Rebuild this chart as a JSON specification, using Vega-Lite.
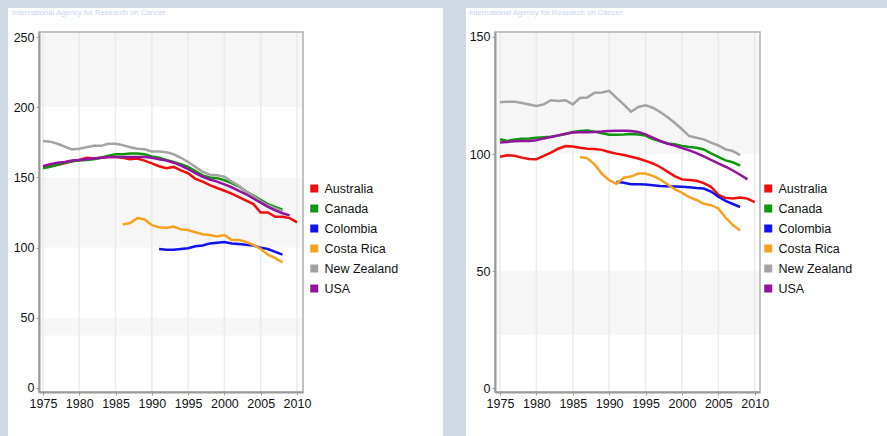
{
  "$schema": "https://vega.github.io/schema/vega-lite/v6.json",
  "background": "#cfdae5",
  "padding": {"left": 8, "top": 7, "right": 0, "bottom": 0},
  "spacing": 22,
  "config": {
    "view": {"stroke": null},
    "axis": {"domainColor": "#9a9a9a", "domainWidth": 2, "tickColor": "#9a9a9a", "tickSize": 3, "labelFont": "Liberation Sans", "labelFontSize": 12.5, "labelColor": "#111111", "grid": false, "labelPadding": 2, "labelOverlap": false, "labelFlush": false, "zindex": 1},
    "legend": {"labelFont": "Liberation Sans", "labelFontSize": 12.5, "labelColor": "#111111", "symbolType": "square", "orient": "none", "rowPadding": 7, "labelOffset": 4}
  },
  "resolve": {"scale": {"color": "independent"}, "legend": {"color": "independent"}},
  "datasets": {
    "grid": [{"year": 1975}, {"year": 1980}, {"year": 1985}, {"year": 1990}, {"year": 1995}, {"year": 2000}, {"year": 2005}, {"year": 2010}],
    "bands1": [{"lo": 200, "hi": 253.6}, {"lo": 100, "hi": 150}, {"lo": 37.4, "hi": 50}],
    "bands2": [{"lo": 100, "hi": 152.13}, {"lo": 22.6, "hi": 50}],
    "p1": [
      {"country": "Australia", "year": 1975, "v": 158}, {"country": "Australia", "year": 1976, "v": 158}, {"country": "Australia", "year": 1977, "v": 159}, {"country": "Australia", "year": 1978, "v": 160}, {"country": "Australia", "year": 1979, "v": 161.5}, {"country": "Australia", "year": 1980, "v": 162.5}, {"country": "Australia", "year": 1981, "v": 164}, {"country": "Australia", "year": 1982, "v": 163.5}, {"country": "Australia", "year": 1983, "v": 164}, {"country": "Australia", "year": 1984, "v": 164.5}, {"country": "Australia", "year": 1985, "v": 164.5}, {"country": "Australia", "year": 1986, "v": 164}, {"country": "Australia", "year": 1987, "v": 163}, {"country": "Australia", "year": 1988, "v": 163.5}, {"country": "Australia", "year": 1989, "v": 162}, {"country": "Australia", "year": 1990, "v": 160}, {"country": "Australia", "year": 1991, "v": 158}, {"country": "Australia", "year": 1992, "v": 156.5}, {"country": "Australia", "year": 1993, "v": 157.5}, {"country": "Australia", "year": 1994, "v": 155}, {"country": "Australia", "year": 1995, "v": 153}, {"country": "Australia", "year": 1996, "v": 149}, {"country": "Australia", "year": 1997, "v": 147}, {"country": "Australia", "year": 1998, "v": 144.5}, {"country": "Australia", "year": 1999, "v": 142.5}, {"country": "Australia", "year": 2000, "v": 140.5}, {"country": "Australia", "year": 2001, "v": 138.5}, {"country": "Australia", "year": 2002, "v": 136}, {"country": "Australia", "year": 2003, "v": 133.5}, {"country": "Australia", "year": 2004, "v": 131}, {"country": "Australia", "year": 2005, "v": 125}, {"country": "Australia", "year": 2006, "v": 125}, {"country": "Australia", "year": 2007, "v": 122}, {"country": "Australia", "year": 2008, "v": 122}, {"country": "Australia", "year": 2009, "v": 121}, {"country": "Australia", "year": 2010, "v": 118},
      {"country": "Canada", "year": 1975, "v": 156.5}, {"country": "Canada", "year": 1976, "v": 157.5}, {"country": "Canada", "year": 1977, "v": 159}, {"country": "Canada", "year": 1978, "v": 160.5}, {"country": "Canada", "year": 1979, "v": 161.5}, {"country": "Canada", "year": 1980, "v": 162}, {"country": "Canada", "year": 1981, "v": 162.5}, {"country": "Canada", "year": 1982, "v": 163}, {"country": "Canada", "year": 1983, "v": 164}, {"country": "Canada", "year": 1984, "v": 165.5}, {"country": "Canada", "year": 1985, "v": 166.5}, {"country": "Canada", "year": 1986, "v": 166.5}, {"country": "Canada", "year": 1987, "v": 167}, {"country": "Canada", "year": 1988, "v": 167}, {"country": "Canada", "year": 1989, "v": 166.5}, {"country": "Canada", "year": 1990, "v": 165}, {"country": "Canada", "year": 1991, "v": 164}, {"country": "Canada", "year": 1992, "v": 162.5}, {"country": "Canada", "year": 1993, "v": 161}, {"country": "Canada", "year": 1994, "v": 159.5}, {"country": "Canada", "year": 1995, "v": 157.5}, {"country": "Canada", "year": 1996, "v": 154.5}, {"country": "Canada", "year": 1997, "v": 151.5}, {"country": "Canada", "year": 1998, "v": 150}, {"country": "Canada", "year": 1999, "v": 149.5}, {"country": "Canada", "year": 2000, "v": 148}, {"country": "Canada", "year": 2001, "v": 146}, {"country": "Canada", "year": 2002, "v": 143.5}, {"country": "Canada", "year": 2003, "v": 140}, {"country": "Canada", "year": 2004, "v": 137}, {"country": "Canada", "year": 2005, "v": 134}, {"country": "Canada", "year": 2006, "v": 131}, {"country": "Canada", "year": 2007, "v": 129}, {"country": "Canada", "year": 2008, "v": 127},
      {"country": "Colombia", "year": 1991, "v": 99}, {"country": "Colombia", "year": 1992, "v": 98.5}, {"country": "Colombia", "year": 1993, "v": 98.5}, {"country": "Colombia", "year": 1994, "v": 99}, {"country": "Colombia", "year": 1995, "v": 99.5}, {"country": "Colombia", "year": 1996, "v": 101}, {"country": "Colombia", "year": 1997, "v": 101.5}, {"country": "Colombia", "year": 1998, "v": 103}, {"country": "Colombia", "year": 1999, "v": 103.5}, {"country": "Colombia", "year": 2000, "v": 104}, {"country": "Colombia", "year": 2001, "v": 103}, {"country": "Colombia", "year": 2002, "v": 102.5}, {"country": "Colombia", "year": 2003, "v": 102}, {"country": "Colombia", "year": 2004, "v": 101.5}, {"country": "Colombia", "year": 2005, "v": 100}, {"country": "Colombia", "year": 2006, "v": 99}, {"country": "Colombia", "year": 2007, "v": 97}, {"country": "Colombia", "year": 2008, "v": 95},
      {"country": "Costa Rica", "year": 1986, "v": 116.5}, {"country": "Costa Rica", "year": 1987, "v": 117.5}, {"country": "Costa Rica", "year": 1988, "v": 121}, {"country": "Costa Rica", "year": 1989, "v": 120}, {"country": "Costa Rica", "year": 1990, "v": 116}, {"country": "Costa Rica", "year": 1991, "v": 114.5}, {"country": "Costa Rica", "year": 1992, "v": 114}, {"country": "Costa Rica", "year": 1993, "v": 115}, {"country": "Costa Rica", "year": 1994, "v": 113}, {"country": "Costa Rica", "year": 1995, "v": 112.5}, {"country": "Costa Rica", "year": 1996, "v": 111}, {"country": "Costa Rica", "year": 1997, "v": 109.5}, {"country": "Costa Rica", "year": 1998, "v": 109}, {"country": "Costa Rica", "year": 1999, "v": 108}, {"country": "Costa Rica", "year": 2000, "v": 109}, {"country": "Costa Rica", "year": 2001, "v": 105.5}, {"country": "Costa Rica", "year": 2002, "v": 105.5}, {"country": "Costa Rica", "year": 2003, "v": 104}, {"country": "Costa Rica", "year": 2004, "v": 102}, {"country": "Costa Rica", "year": 2005, "v": 99}, {"country": "Costa Rica", "year": 2006, "v": 95}, {"country": "Costa Rica", "year": 2007, "v": 92.5}, {"country": "Costa Rica", "year": 2008, "v": 89.5},
      {"country": "New Zealand", "year": 1975, "v": 176}, {"country": "New Zealand", "year": 1976, "v": 175.5}, {"country": "New Zealand", "year": 1977, "v": 174}, {"country": "New Zealand", "year": 1978, "v": 172}, {"country": "New Zealand", "year": 1979, "v": 170}, {"country": "New Zealand", "year": 1980, "v": 170.5}, {"country": "New Zealand", "year": 1981, "v": 171.5}, {"country": "New Zealand", "year": 1982, "v": 172.5}, {"country": "New Zealand", "year": 1983, "v": 172.5}, {"country": "New Zealand", "year": 1984, "v": 174}, {"country": "New Zealand", "year": 1985, "v": 174}, {"country": "New Zealand", "year": 1986, "v": 173}, {"country": "New Zealand", "year": 1987, "v": 171.5}, {"country": "New Zealand", "year": 1988, "v": 170.5}, {"country": "New Zealand", "year": 1989, "v": 170}, {"country": "New Zealand", "year": 1990, "v": 168.5}, {"country": "New Zealand", "year": 1991, "v": 168.5}, {"country": "New Zealand", "year": 1992, "v": 168}, {"country": "New Zealand", "year": 1993, "v": 166.5}, {"country": "New Zealand", "year": 1994, "v": 164}, {"country": "New Zealand", "year": 1995, "v": 161}, {"country": "New Zealand", "year": 1996, "v": 157.5}, {"country": "New Zealand", "year": 1997, "v": 154}, {"country": "New Zealand", "year": 1998, "v": 152}, {"country": "New Zealand", "year": 1999, "v": 151.5}, {"country": "New Zealand", "year": 2000, "v": 150.5}, {"country": "New Zealand", "year": 2001, "v": 147}, {"country": "New Zealand", "year": 2002, "v": 144}, {"country": "New Zealand", "year": 2003, "v": 140}, {"country": "New Zealand", "year": 2004, "v": 136.5}, {"country": "New Zealand", "year": 2005, "v": 133}, {"country": "New Zealand", "year": 2006, "v": 130}, {"country": "New Zealand", "year": 2007, "v": 128}, {"country": "New Zealand", "year": 2008, "v": 126},
      {"country": "USA", "year": 1975, "v": 158}, {"country": "USA", "year": 1976, "v": 159.5}, {"country": "USA", "year": 1977, "v": 160.5}, {"country": "USA", "year": 1978, "v": 161}, {"country": "USA", "year": 1979, "v": 162}, {"country": "USA", "year": 1980, "v": 162.5}, {"country": "USA", "year": 1981, "v": 163}, {"country": "USA", "year": 1982, "v": 163.5}, {"country": "USA", "year": 1983, "v": 164}, {"country": "USA", "year": 1984, "v": 164.5}, {"country": "USA", "year": 1985, "v": 164.5}, {"country": "USA", "year": 1986, "v": 164.5}, {"country": "USA", "year": 1987, "v": 164.5}, {"country": "USA", "year": 1988, "v": 164.5}, {"country": "USA", "year": 1989, "v": 164.5}, {"country": "USA", "year": 1990, "v": 164}, {"country": "USA", "year": 1991, "v": 163}, {"country": "USA", "year": 1992, "v": 162}, {"country": "USA", "year": 1993, "v": 160.5}, {"country": "USA", "year": 1994, "v": 158.5}, {"country": "USA", "year": 1995, "v": 156}, {"country": "USA", "year": 1996, "v": 153}, {"country": "USA", "year": 1997, "v": 150.5}, {"country": "USA", "year": 1998, "v": 148.5}, {"country": "USA", "year": 1999, "v": 147}, {"country": "USA", "year": 2000, "v": 145}, {"country": "USA", "year": 2001, "v": 143}, {"country": "USA", "year": 2002, "v": 140.5}, {"country": "USA", "year": 2003, "v": 138}, {"country": "USA", "year": 2004, "v": 135}, {"country": "USA", "year": 2005, "v": 132}, {"country": "USA", "year": 2006, "v": 129}, {"country": "USA", "year": 2007, "v": 126.5}, {"country": "USA", "year": 2008, "v": 124.5}, {"country": "USA", "year": 2009, "v": 123}
    ],
    "p2": [
      {"country": "Australia", "year": 1975, "v": 98.9}, {"country": "Australia", "year": 1976, "v": 99.5}, {"country": "Australia", "year": 1977, "v": 99.3}, {"country": "Australia", "year": 1978, "v": 98.5}, {"country": "Australia", "year": 1979, "v": 97.9}, {"country": "Australia", "year": 1980, "v": 97.8}, {"country": "Australia", "year": 1981, "v": 99.2}, {"country": "Australia", "year": 1982, "v": 100.6}, {"country": "Australia", "year": 1983, "v": 102.3}, {"country": "Australia", "year": 1984, "v": 103.4}, {"country": "Australia", "year": 1985, "v": 103.2}, {"country": "Australia", "year": 1986, "v": 102.7}, {"country": "Australia", "year": 1987, "v": 102.3}, {"country": "Australia", "year": 1988, "v": 102.2}, {"country": "Australia", "year": 1989, "v": 101.8}, {"country": "Australia", "year": 1990, "v": 100.9}, {"country": "Australia", "year": 1991, "v": 100.2}, {"country": "Australia", "year": 1992, "v": 99.6}, {"country": "Australia", "year": 1993, "v": 98.9}, {"country": "Australia", "year": 1994, "v": 98.1}, {"country": "Australia", "year": 1995, "v": 97.1}, {"country": "Australia", "year": 1996, "v": 96}, {"country": "Australia", "year": 1997, "v": 94.5}, {"country": "Australia", "year": 1998, "v": 92.5}, {"country": "Australia", "year": 1999, "v": 90.6}, {"country": "Australia", "year": 2000, "v": 89.2}, {"country": "Australia", "year": 2001, "v": 88.9}, {"country": "Australia", "year": 2002, "v": 88.6}, {"country": "Australia", "year": 2003, "v": 87.6}, {"country": "Australia", "year": 2004, "v": 86}, {"country": "Australia", "year": 2005, "v": 82.6}, {"country": "Australia", "year": 2006, "v": 81.3}, {"country": "Australia", "year": 2007, "v": 81}, {"country": "Australia", "year": 2008, "v": 81.5}, {"country": "Australia", "year": 2009, "v": 81}, {"country": "Australia", "year": 2010, "v": 79.5},
      {"country": "Canada", "year": 1975, "v": 106.3}, {"country": "Canada", "year": 1976, "v": 105.6}, {"country": "Canada", "year": 1977, "v": 106.2}, {"country": "Canada", "year": 1978, "v": 106.6}, {"country": "Canada", "year": 1979, "v": 106.7}, {"country": "Canada", "year": 1980, "v": 107}, {"country": "Canada", "year": 1981, "v": 107.2}, {"country": "Canada", "year": 1982, "v": 107.4}, {"country": "Canada", "year": 1983, "v": 107.9}, {"country": "Canada", "year": 1984, "v": 108.6}, {"country": "Canada", "year": 1985, "v": 109.4}, {"country": "Canada", "year": 1986, "v": 109.9}, {"country": "Canada", "year": 1987, "v": 110.1}, {"country": "Canada", "year": 1988, "v": 109.6}, {"country": "Canada", "year": 1989, "v": 108.9}, {"country": "Canada", "year": 1990, "v": 108.3}, {"country": "Canada", "year": 1991, "v": 108.3}, {"country": "Canada", "year": 1992, "v": 108.4}, {"country": "Canada", "year": 1993, "v": 108.6}, {"country": "Canada", "year": 1994, "v": 108.4}, {"country": "Canada", "year": 1995, "v": 107.9}, {"country": "Canada", "year": 1996, "v": 106.4}, {"country": "Canada", "year": 1997, "v": 105.6}, {"country": "Canada", "year": 1998, "v": 104.5}, {"country": "Canada", "year": 1999, "v": 104.2}, {"country": "Canada", "year": 2000, "v": 103.5}, {"country": "Canada", "year": 2001, "v": 103}, {"country": "Canada", "year": 2002, "v": 102.7}, {"country": "Canada", "year": 2003, "v": 102}, {"country": "Canada", "year": 2004, "v": 100.3}, {"country": "Canada", "year": 2005, "v": 98.8}, {"country": "Canada", "year": 2006, "v": 97.3}, {"country": "Canada", "year": 2007, "v": 96.5}, {"country": "Canada", "year": 2008, "v": 95.1},
      {"country": "Colombia", "year": 1991, "v": 88.2}, {"country": "Colombia", "year": 1992, "v": 87.8}, {"country": "Colombia", "year": 1993, "v": 87.1}, {"country": "Colombia", "year": 1994, "v": 87.1}, {"country": "Colombia", "year": 1995, "v": 87}, {"country": "Colombia", "year": 1996, "v": 86.7}, {"country": "Colombia", "year": 1997, "v": 86.4}, {"country": "Colombia", "year": 1998, "v": 86.3}, {"country": "Colombia", "year": 1999, "v": 86.2}, {"country": "Colombia", "year": 2000, "v": 86.1}, {"country": "Colombia", "year": 2001, "v": 85.8}, {"country": "Colombia", "year": 2002, "v": 85.5}, {"country": "Colombia", "year": 2003, "v": 85.3}, {"country": "Colombia", "year": 2004, "v": 84}, {"country": "Colombia", "year": 2005, "v": 81.8}, {"country": "Colombia", "year": 2006, "v": 80}, {"country": "Colombia", "year": 2007, "v": 78.7}, {"country": "Colombia", "year": 2008, "v": 77.4},
      {"country": "Costa Rica", "year": 1986, "v": 98.8}, {"country": "Costa Rica", "year": 1987, "v": 98.2}, {"country": "Costa Rica", "year": 1988, "v": 95.6}, {"country": "Costa Rica", "year": 1989, "v": 91.6}, {"country": "Costa Rica", "year": 1990, "v": 88.9}, {"country": "Costa Rica", "year": 1991, "v": 87.3}, {"country": "Costa Rica", "year": 1992, "v": 89.9}, {"country": "Costa Rica", "year": 1993, "v": 90.4}, {"country": "Costa Rica", "year": 1994, "v": 91.7}, {"country": "Costa Rica", "year": 1995, "v": 91.7}, {"country": "Costa Rica", "year": 1996, "v": 90.7}, {"country": "Costa Rica", "year": 1997, "v": 89.2}, {"country": "Costa Rica", "year": 1998, "v": 87.1}, {"country": "Costa Rica", "year": 1999, "v": 85}, {"country": "Costa Rica", "year": 2000, "v": 83.5}, {"country": "Costa Rica", "year": 2001, "v": 81.6}, {"country": "Costa Rica", "year": 2002, "v": 80.4}, {"country": "Costa Rica", "year": 2003, "v": 78.8}, {"country": "Costa Rica", "year": 2004, "v": 78.2}, {"country": "Costa Rica", "year": 2005, "v": 76.8}, {"country": "Costa Rica", "year": 2006, "v": 72.9}, {"country": "Costa Rica", "year": 2007, "v": 69.7}, {"country": "Costa Rica", "year": 2008, "v": 67.4},
      {"country": "New Zealand", "year": 1975, "v": 122.1}, {"country": "New Zealand", "year": 1976, "v": 122.4}, {"country": "New Zealand", "year": 1977, "v": 122.4}, {"country": "New Zealand", "year": 1978, "v": 121.8}, {"country": "New Zealand", "year": 1979, "v": 121.2}, {"country": "New Zealand", "year": 1980, "v": 120.5}, {"country": "New Zealand", "year": 1981, "v": 121.2}, {"country": "New Zealand", "year": 1982, "v": 123}, {"country": "New Zealand", "year": 1983, "v": 122.7}, {"country": "New Zealand", "year": 1984, "v": 123}, {"country": "New Zealand", "year": 1985, "v": 121.2}, {"country": "New Zealand", "year": 1986, "v": 124}, {"country": "New Zealand", "year": 1987, "v": 124.2}, {"country": "New Zealand", "year": 1988, "v": 126.2}, {"country": "New Zealand", "year": 1989, "v": 126.3}, {"country": "New Zealand", "year": 1990, "v": 127}, {"country": "New Zealand", "year": 1991, "v": 124}, {"country": "New Zealand", "year": 1992, "v": 121.2}, {"country": "New Zealand", "year": 1993, "v": 118.1}, {"country": "New Zealand", "year": 1994, "v": 120.1}, {"country": "New Zealand", "year": 1995, "v": 120.8}, {"country": "New Zealand", "year": 1996, "v": 119.8}, {"country": "New Zealand", "year": 1997, "v": 118}, {"country": "New Zealand", "year": 1998, "v": 115.8}, {"country": "New Zealand", "year": 1999, "v": 113.4}, {"country": "New Zealand", "year": 2000, "v": 110.6}, {"country": "New Zealand", "year": 2001, "v": 107.7}, {"country": "New Zealand", "year": 2002, "v": 107}, {"country": "New Zealand", "year": 2003, "v": 106.3}, {"country": "New Zealand", "year": 2004, "v": 104.9}, {"country": "New Zealand", "year": 2005, "v": 103.7}, {"country": "New Zealand", "year": 2006, "v": 102}, {"country": "New Zealand", "year": 2007, "v": 101.3}, {"country": "New Zealand", "year": 2008, "v": 99.6},
      {"country": "USA", "year": 1975, "v": 104.9}, {"country": "USA", "year": 1976, "v": 105.2}, {"country": "USA", "year": 1977, "v": 105.5}, {"country": "USA", "year": 1978, "v": 105.6}, {"country": "USA", "year": 1979, "v": 105.6}, {"country": "USA", "year": 1980, "v": 105.9}, {"country": "USA", "year": 1981, "v": 106.7}, {"country": "USA", "year": 1982, "v": 107.3}, {"country": "USA", "year": 1983, "v": 108}, {"country": "USA", "year": 1984, "v": 108.7}, {"country": "USA", "year": 1985, "v": 109.2}, {"country": "USA", "year": 1986, "v": 109.3}, {"country": "USA", "year": 1987, "v": 109.3}, {"country": "USA", "year": 1988, "v": 109.4}, {"country": "USA", "year": 1989, "v": 109.6}, {"country": "USA", "year": 1990, "v": 109.9}, {"country": "USA", "year": 1991, "v": 110}, {"country": "USA", "year": 1992, "v": 110}, {"country": "USA", "year": 1993, "v": 109.9}, {"country": "USA", "year": 1994, "v": 109.4}, {"country": "USA", "year": 1995, "v": 108.4}, {"country": "USA", "year": 1996, "v": 107}, {"country": "USA", "year": 1997, "v": 105.6}, {"country": "USA", "year": 1998, "v": 104.5}, {"country": "USA", "year": 1999, "v": 103.6}, {"country": "USA", "year": 2000, "v": 102.6}, {"country": "USA", "year": 2001, "v": 101.6}, {"country": "USA", "year": 2002, "v": 100.4}, {"country": "USA", "year": 2003, "v": 99}, {"country": "USA", "year": 2004, "v": 97.5}, {"country": "USA", "year": 2005, "v": 96}, {"country": "USA", "year": 2006, "v": 94.6}, {"country": "USA", "year": 2007, "v": 93}, {"country": "USA", "year": 2008, "v": 91.2}, {"country": "USA", "year": 2009, "v": 89.2}
    ]
  },
  "hconcat": [
    {
      "width": 264, "height": 360,
      "title": {"text": "International Agency for Research on Cancer", "anchor": "start", "frame": "bounds", "offset": -9, "dx": 4, "fontSize": 7.7, "font": "Liberation Sans", "fontWeight": "normal", "color": "#c6d5ec"},
      "layer": [
        {"data": {"values": [{}]}, "mark": {"type": "rect", "fill": "#ffffff"},
         "encoding": {
           "x": {"datum": 1970.18, "type": "quantitative", "scale": {"domain": [1974.45, 2010.83], "nice": false, "zero": false}, "title": null, "axis": {"values": [1975, 1980, 1985, 1990, 1995, 2000, 2005, 2010], "format": "d", "labelOverlap": false, "zindex": 1}},
           "x2": {"datum": 2030.12},
           "y": {"datum": 270.7, "type": "quantitative", "scale": {"domain": [-2.85, 253.6], "nice": false, "zero": false}, "title": null, "axis": {"values": [0, 50, 100, 150, 200, 250], "format": "d", "zindex": 1}},
           "y2": {"datum": -38.47}}},
        {"data": {"name": "bands1"}, "mark": {"type": "rect", "fill": "#f6f6f6"},
         "encoding": {"y": {"field": "lo", "type": "quantitative", "scale": {"domain": [-2.85, 253.6], "nice": false, "zero": false}, "title": null, "axis": {"values": [0, 50, 100, 150, 200, 250], "format": "d", "zindex": 1}}, "y2": {"field": "hi"}}},
        {"data": {"name": "grid"}, "mark": {"type": "rule", "color": "#ebebeb", "strokeWidth": 1.5},
         "encoding": {"x": {"field": "year", "type": "quantitative", "scale": {"domain": [1974.45, 2010.83], "nice": false, "zero": false}, "title": null, "axis": {"values": [1975, 1980, 1985, 1990, 1995, 2000, 2005, 2010], "format": "d", "labelOverlap": false, "zindex": 1}}}},
        {"data": {"values": [{}]}, "mark": {"type": "rect", "filled": false, "stroke": "#b0b0b0", "strokeWidth": 1.5}, "encoding": {}},
        {"data": {"name": "p1"}, "mark": {"type": "line", "strokeWidth": 2.5},
         "encoding": {
           "x": {"field": "year", "type": "quantitative", "scale": {"domain": [1974.45, 2010.83], "nice": false, "zero": false}, "title": null, "axis": {"values": [1975, 1980, 1985, 1990, 1995, 2000, 2005, 2010], "format": "d", "labelOverlap": false, "zindex": 1}},
           "y": {"field": "v", "type": "quantitative", "scale": {"domain": [-2.85, 253.6], "nice": false, "zero": false}, "title": null, "axis": {"values": [0, 50, 100, 150, 200, 250], "format": "d", "zindex": 1}},
           "color": {"field": "country", "type": "nominal", "scale": {"domain": ["Australia", "Canada", "Colombia", "Costa Rica", "New Zealand", "USA"], "range": ["#f20d0d", "#0e970e", "#1212f0", "#f7a21e", "#a3a3a3", "#91139e"]}, "legend": {"title": null, "legendX": 269, "legendY": 150, "symbolSize": 4, "symbolStrokeWidth": 6, "clipHeight": 13}}
         }}
      ]
    },
    {
      "width": 265, "height": 360,
      "title": {"text": "International Agency for Research on Cancer", "anchor": "start", "frame": "bounds", "offset": -9, "dx": 3, "fontSize": 7.7, "font": "Liberation Sans", "fontWeight": "normal", "color": "#c6d5ec"},
      "layer": [
        {"data": {"values": [{}]}, "mark": {"type": "rect", "fill": "#ffffff"},
         "encoding": {
           "x": {"datum": 1970.32, "type": "quantitative", "scale": {"domain": [1974.31, 2010.73], "nice": false, "zero": false}, "title": null, "axis": {"values": [1975, 1980, 1985, 1990, 1995, 2000, 2005, 2010], "format": "d", "labelOverlap": false, "zindex": 1}},
           "x2": {"datum": 2028.6},
           "y": {"datum": 162.38, "type": "quantitative", "scale": {"domain": [-1.58, 152.13], "nice": false, "zero": false}, "title": null, "axis": {"values": [0, 50, 100, 150], "format": "d", "zindex": 1}},
           "y2": {"datum": -22.93}}},
        {"data": {"name": "bands2"}, "mark": {"type": "rect", "fill": "#f6f6f6"},
         "encoding": {"y": {"field": "lo", "type": "quantitative", "scale": {"domain": [-1.58, 152.13], "nice": false, "zero": false}, "title": null, "axis": {"values": [0, 50, 100, 150], "format": "d", "zindex": 1}}, "y2": {"field": "hi"}}},
        {"data": {"name": "grid"}, "mark": {"type": "rule", "color": "#ebebeb", "strokeWidth": 1.5},
         "encoding": {"x": {"field": "year", "type": "quantitative", "scale": {"domain": [1974.31, 2010.73], "nice": false, "zero": false}, "title": null, "axis": {"values": [1975, 1980, 1985, 1990, 1995, 2000, 2005, 2010], "format": "d", "labelOverlap": false, "zindex": 1}}}},
        {"data": {"values": [{}]}, "mark": {"type": "rect", "filled": false, "stroke": "#b0b0b0", "strokeWidth": 1.5}, "encoding": {}},
        {"data": {"name": "p2"}, "mark": {"type": "line", "strokeWidth": 2.5},
         "encoding": {
           "x": {"field": "year", "type": "quantitative", "scale": {"domain": [1974.31, 2010.73], "nice": false, "zero": false}, "title": null, "axis": {"values": [1975, 1980, 1985, 1990, 1995, 2000, 2005, 2010], "format": "d", "labelOverlap": false, "zindex": 1}},
           "y": {"field": "v", "type": "quantitative", "scale": {"domain": [-1.58, 152.13], "nice": false, "zero": false}, "title": null, "axis": {"values": [0, 50, 100, 150], "format": "d", "zindex": 1}},
           "color": {"field": "country", "type": "nominal", "scale": {"domain": ["Australia", "Canada", "Colombia", "Costa Rica", "New Zealand", "USA"], "range": ["#f20d0d", "#0e970e", "#1212f0", "#f7a21e", "#a3a3a3", "#91139e"]}, "legend": {"title": null, "legendX": 267, "legendY": 150, "symbolSize": 4, "symbolStrokeWidth": 6, "clipHeight": 13}}
         }}
      ]
    }
  ]
}
